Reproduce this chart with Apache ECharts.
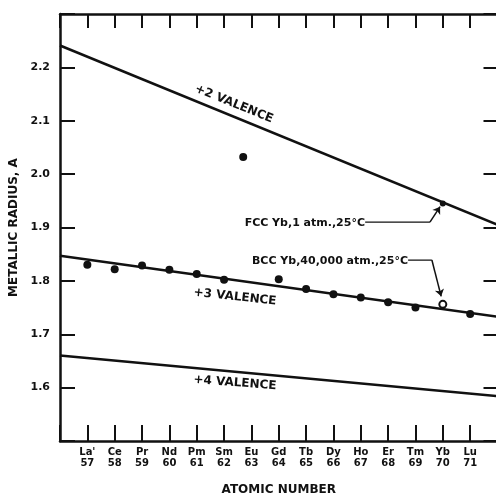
<!DOCTYPE html>
<html lang="en">
<head>
<meta charset="UTF-8">
<script src="https://cdn.jsdelivr.net/npm/echarts@6/dist/echarts.min.js"></script>
<title>Metallic radius</title>
<style>
  *{margin:0;padding:0}
  html,body{width:100%;height:100%;background:#fff}
</style>
</head>
<body>
<div id="main" style="width:496px;height:499px"></div>
<script type="text/javascript">
// element labels on the x axis
var elements = ['La\'', 'Ce', 'Pr', 'Nd', 'Pm', 'Sm', 'Eu', 'Gd', 'Tb', 'Dy', 'Ho', 'Er', 'Tm', 'Yb', 'Lu'];
var yTicks = [1.6, 1.7, 1.8, 1.9, 2.0, 2.1, 2.2];

// measured metallic radii (atomic number, radius)
var metals = [[57, 1.830], [58, 1.822], [59, 1.829], [60, 1.821], [61, 1.813], [62, 1.802],
  [62.7, 2.032], [64, 1.803], [65, 1.785], [66, 1.775], [67, 1.769], [68, 1.760], [69, 1.750], [71, 1.738]];
var bccYb = [[70, 1.756]];
var fccYb = [[70, 1.945]];

// valence lines
var valence2 = [[56, 2.241], [72, 1.905]];
var valence3 = [[56, 1.847], [72, 1.733]];
var valence4 = [[56, 1.660], [72, 1.584]];

// leader lines for the two Yb notes
var fccLeader = [[67.16, 1.910], [69.53, 1.910]];
var fccArrow = [[69.53, 1.910], [69.90, 1.939]];
var bccLeader = [[68.73, 1.839], [69.60, 1.839]];
var bccArrow = [[69.60, 1.839], [69.94, 1.771]];

var ink = '#111';
var font = 'DejaVu Sans';

var chart = echarts.init(document.getElementById('main'));

function lineSeries(data, w) {
  return {
    type: 'line', data: data, symbol: 'none', silent: true,
    lineStyle: {color: ink, width: w}, z: 3
  };
}

function leader(data, arrow) {
  var s = lineSeries(data, 1.3);
  s.markLine = {
    silent: true, symbol: ['none', 'arrow'], symbolSize: 7,
    label: {show: false},
    lineStyle: {color: ink, width: 1.5, type: 'solid'},
    data: [[{coord: arrow[0]}, {coord: arrow[1]}]]
  };
  return s;
}

var hiddenX = {
  type: 'value', min: 56, max: 72, interval: 1, position: 'top',
  axisLine: {show: true, lineStyle: {color: ink, width: 2.5}},
  axisTick: {show: true, inside: true, length: 14, lineStyle: {color: ink, width: 2}},
  axisLabel: {show: false}, splitLine: {show: false}
};
var hiddenY = {
  type: 'value', min: 1.5, max: 2.3, interval: 0.1, position: 'right',
  axisLine: {show: true, lineStyle: {color: ink, width: 2.5}},
  axisTick: {show: true, inside: true, length: 14, lineStyle: {color: ink, width: 2}},
  axisLabel: {show: false}, splitLine: {show: false}
};

var option = {
  backgroundColor: '#fff',
  animation: false,
  grid: {left: 60, top: 14, width: 437.5, height: 427, outerBoundsMode: 'none'},
  xAxis: [{
    type: 'value', min: 56, max: 72, interval: 1, position: 'bottom',
    name: 'ATOMIC NUMBER', nameLocation: 'middle', nameGap: 43,
    nameTextStyle: {color: ink, fontFamily: font, fontWeight: 'bold', fontSize: 12},
    axisLine: {show: true, lineStyle: {color: ink, width: 2.5}},
    axisTick: {show: true, inside: true, length: 16, lineStyle: {color: ink, width: 2}},
    axisLabel: {
      color: ink, fontFamily: font, fontWeight: 'bold', fontSize: 10, lineHeight: 11, margin: 6,
      formatter: function (v) {
        var i = v - 57;
        if (i < 0 || i >= elements.length) return '';
        return elements[i] + '\n' + v;
      }
    },
    splitLine: {show: false}
  }, hiddenX],
  yAxis: [{
    type: 'value', min: 1.5, max: 2.3, interval: 0.1, position: 'left',
    name: 'METALLIC RADIUS, A', nameLocation: 'middle', nameGap: 35, nameRotate: 90,
    nameTextStyle: {color: ink, fontFamily: font, fontWeight: 'bold', fontSize: 12},
    axisLine: {show: true, lineStyle: {color: ink, width: 2.5}},
    axisTick: {show: true, inside: true, length: 15, lineStyle: {color: ink, width: 2}},
    axisLabel: {
      color: ink, fontFamily: font, fontWeight: 'bold', fontSize: 11, margin: 10,
      formatter: function (v) {
        var r = Math.round(v * 10) / 10;
        return yTicks.indexOf(r) >= 0 ? r.toFixed(1) : '';
      }
    },
    splitLine: {show: false}
  }, hiddenY],
  series: [
    lineSeries(valence2, 2.5),
    lineSeries(valence3, 2.5),
    lineSeries(valence4, 2.5),
    {
      type: 'scatter', data: metals, symbol: 'circle', symbolSize: 8,
      itemStyle: {color: ink, opacity: 1}, z: 4
    },
    {
      type: 'scatter', data: bccYb, symbol: 'emptyCircle', symbolSize: 7,
      itemStyle: {color: ink, borderColor: ink, borderWidth: 1.5, opacity: 1}, z: 4
    },
    {
      type: 'scatter', data: fccYb, symbol: 'circle', symbolSize: 6,
      itemStyle: {color: ink, opacity: 1}, z: 5
    },
    leader(fccLeader, fccArrow),
    leader(bccLeader, bccArrow)
  ],
  graphic: [
    {type: 'text', x: 234, y: 104, rotation: -0.385,
      style: {text: '+2 VALENCE', fill: ink, font: 'bold 12px ' + font, align: 'center', verticalAlign: 'middle'}},
    {type: 'text', x: 235, y: 297, rotation: -0.11,
      style: {text: '+3 VALENCE', fill: ink, font: 'bold 12px ' + font, align: 'center', verticalAlign: 'middle'}},
    {type: 'text', x: 235, y: 383, rotation: -0.078,
      style: {text: '+4 VALENCE', fill: ink, font: 'bold 12px ' + font, align: 'center', verticalAlign: 'middle'}},
    {type: 'text', x: 365, y: 223,
      style: {text: 'FCC Yb,1 atm.,25°C', fill: ink, font: 'bold 11px ' + font, align: 'right', verticalAlign: 'middle'}},
    {type: 'text', x: 408, y: 261,
      style: {text: 'BCC Yb,40,000 atm.,25°C', fill: ink, font: 'bold 11px ' + font, align: 'right', verticalAlign: 'middle'}}
  ]
};

chart.setOption(option);
</script>
</body>
</html>
